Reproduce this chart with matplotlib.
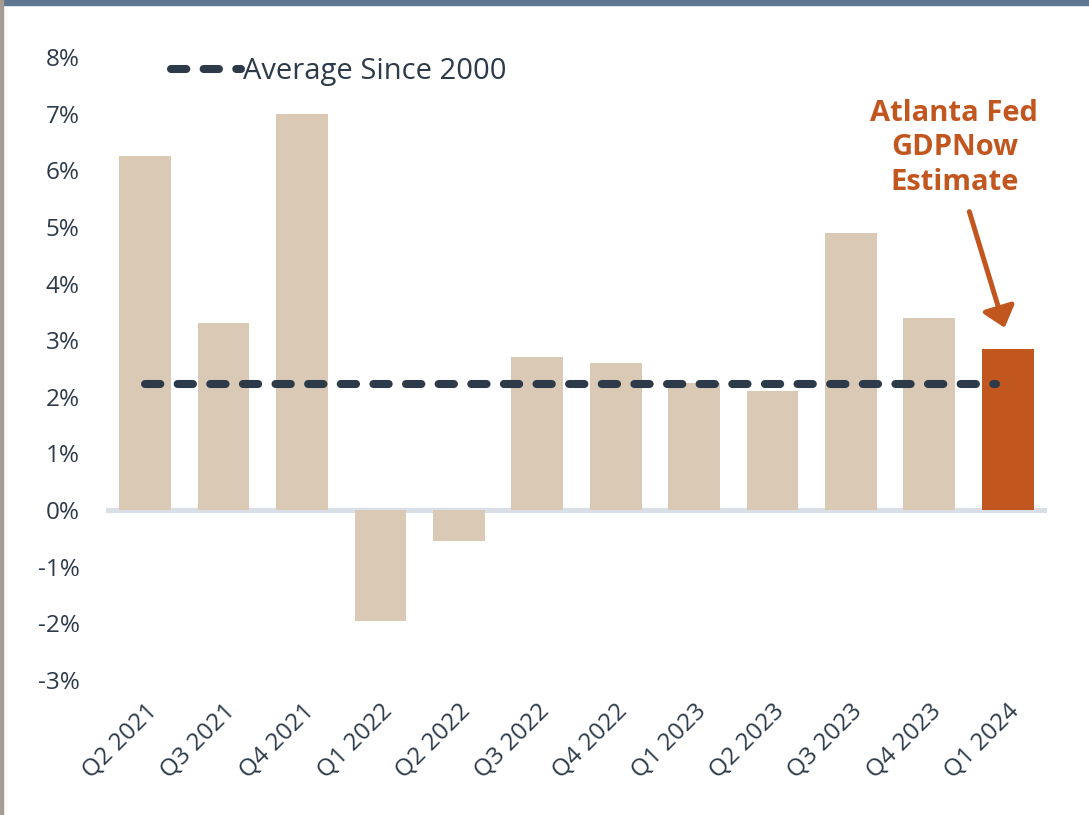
import matplotlib
matplotlib.use("Agg")
import matplotlib.pyplot as plt
from matplotlib.patches import Rectangle

quarters = ["Q2 2021", "Q3 2021", "Q4 2021", "Q1 2022", "Q2 2022", "Q3 2022",
            "Q4 2022", "Q1 2023", "Q2 2023", "Q3 2023", "Q4 2023", "Q1 2024"]
growth = [6.25, 3.3, 7.0, -1.95, -0.55, 2.7, 2.6, 2.25, 2.1, 4.9, 3.4, 2.85]
avg_since_2000 = 2.23
y_ticks = [-3, -2, -1, 0, 1, 2, 3, 4, 5, 6, 7, 8]

text_col = "#2d3a4a"
bar_col = "#d9c9b5"
est_col = "#c2561f"

plt.rcParams["font.family"] = ["Open Sans", "DejaVu Sans"]

fig = plt.figure(figsize=(10.89, 8.15), dpi=100)
ax = fig.add_axes([0.0973, 0.1656, 0.8641, 0.7644])

# frame bits of the original slide
fig.patches.append(Rectangle((0, 1 - 5 / 815), 1, 5 / 815, transform=fig.transFigure,
                             color="#5f7690", zorder=0))
fig.patches.append(Rectangle((0, 0), 3 / 1089, 1, transform=fig.transFigure,
                             color="#a59d95", zorder=0))

x = list(range(len(quarters)))
colors = [bar_col] * (len(quarters) - 1) + [est_col]
ax.bar(x, growth, width=0.66, color=colors, zorder=2)
ax.axhline(0, color="#d9dfe7", lw=3.8, zorder=1)

avg_line, = ax.plot([0, 10.85], [avg_since_2000] * 2, color=text_col, lw=5.8,
                    dashes=(1.9, 2.15), dash_capstyle="round", zorder=3)

ax.set_xlim(-0.5, len(quarters) - 0.5)
ax.set_ylim(-3, 8)
ax.set_yticks(y_ticks)
ax.set_yticklabels([f"{v}%" for v in y_ticks])
ax.set_xticks(x)
ax.set_xticklabels(quarters, rotation=45, ha="right", rotation_mode="anchor")
ax.tick_params(length=0, labelsize=17.5, colors=text_col)
ax.tick_params(axis="y", pad=19)
ax.tick_params(axis="x", pad=14)
for s in ax.spines.values():
    s.set_visible(False)

ax.legend([avg_line], ["Average Since 2000"], loc="center left", frameon=False,
          bbox_to_anchor=(0.069, 0.977), borderaxespad=0, borderpad=0,
          handlelength=2.4, handletextpad=0.08,
          fontsize=21, labelcolor=text_col)

ax.text(10.32, 6.40, "Atlanta Fed\nGDPNow\nEstimate", ha="center", va="center",
        color=est_col, fontsize=21, fontweight="bold", linespacing=1.25)
ax.annotate("", xy=(10.96, 3.22), xytext=(10.51, 5.27),
            arrowprops=dict(arrowstyle="-|>,head_length=0.6,head_width=0.5",
                            mutation_scale=20, color=est_col, lw=3.6,
                            shrinkA=0, shrinkB=0))

fig.savefig("out.png", dpi=100)
